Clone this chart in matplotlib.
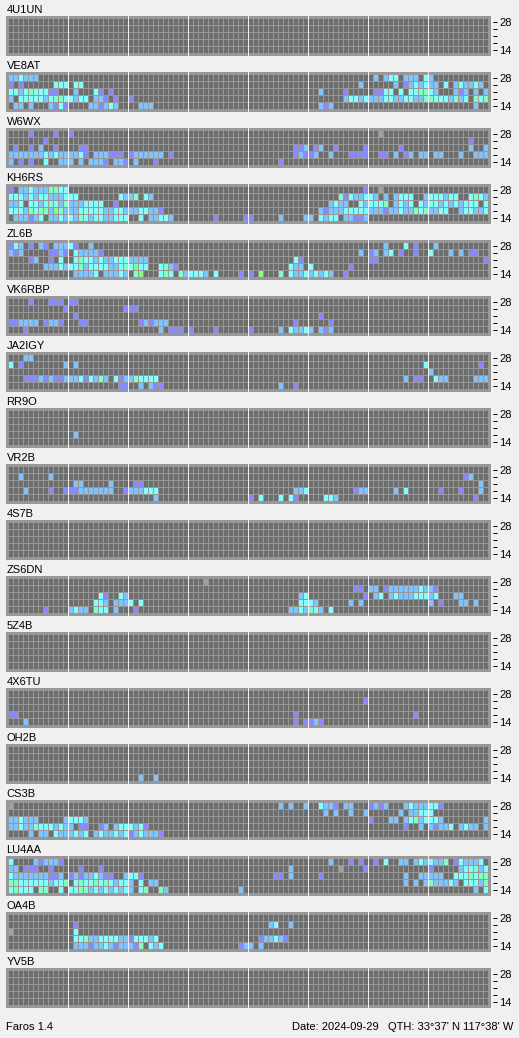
import matplotlib
matplotlib.use('Agg')
import matplotlib.pyplot as plt

W, H = 519, 1038
BG = '#f0f0f0'
PANEL = '#989898'
EMPTY = '#6e6e6e'
LEVELS = {'1': '#8888ff', '2': '#80c4ff', '3': '#80ffff', '4': '#80ffc0', '5': '#80ff80', '9': '#a0a0a0'}
BANDS = ['28', '', '', '', '14']
N_COLS = 96

# Each station: five rows (28 MHz on top), each {first column: levels, '.' = no signal}
U4U1UN = [{}, {}, {}, {}, {}]
VE8AT = [
    {0: '223222', 73: '2.233.222.32'},
    {0: '1.1', 9: '333.33', 70: '2', 77: '2.1232322.3.232232'},
    {0: '3323433311', 13: '2', 17: '31.1', 62: '2', 67: '1', 73: '1133.3.334432...212.2.2'},
    {0: '2.33333234433233', 17: '221.1..1', 67: '2332322233223322443332423.434'},
    {1: '22.2', 8: '2131', 16: '221232', 26: '222', 62: '212', 93: '2'},
]
W6WX = [
    {4: '1', 9: '1', 12: '1', 74: '9'},
    {7: '1', 92: '1'},
    {1: '1', 4: '1', 6: '2', 9: '1', 14: '11', 57: '112.12', 65: '1', 71: '1', 78: '1', 92: '2', 95: '2'},
    {0: '2222222323222231', 17: '222111.1222222', 32: '1', 57: '12112', 64: '2', 68: '1111', 74: '11',
     77: '2', 79: '12', 82: '22', 85: '22', 90: '2', 93: '222'},
    {0: '2.1.1', 7: '3', 10: '222', 14: '2', 16: '2221', 21: '221', 25: '2', 29: '1', 54: '1'},
]
KH6RS = [
    {0: '1', 2: '2232224433', 71: '1', 74: '9'},
    {0: '33323233222333', 22: '3224', 27: '32', 66: '41322332', 75: '2', 77: '2333', 83: '2333233', 92: '3432'},
    {0: '223.332343242223333', 21: '1', 64: '2322', 70: '323334', 77: '2323', 82: '323323232333', 95: '3'},
    {0: '333243442542', 12: '223333322332', 24: '2233221', 62: '21222333332221223224342233', 90: '233223'},
    {1: '222123', 8: '2232324323322333', 26: '3', 28: '22332', 41: '1', 47: '11', 54: '2', 59: '22', 62: '3233',
     67: '22112'},
]
ZL6B = [
    {0: '132.1.21.22231', 16: '2', 75: '2', 79: '3', 81: '1', 85: '2'},
    {0: '212', 8: '1121', 13: '322221', 70: '2', 72: '12', 75: '23', 78: '1', 81: '1', 84: '3', 88: '2', 90: '2',
     92: '11'},
    {4: '12', 8: '1', 10: '3', 13: '343323223332222', 57: '31', 72: '11', 95: '1'},
    {7: '222323342333322343533', 30: '3421', 56: '322', 60: '3', 68: '1'},
    {13: '22223', 19: '22232', 25: '45', 30: '343', 34: '423332', 41: '3', 46: '1', 48: '1', 50: '5', 54: '4',
     56: '322323232', 67: '1'},
]
VK6RBP = [
    {4: '1', 8: '111', 12: '11'},
    {11: '1', 23: '111'},
    {13: '1', 62: '1'},
    {0: '112222', 7: '1221', 14: '11', 26: '121222', 57: '1', 64: '1'},
    {3: '1', 30: '2', 32: '111', 36: '1', 41: '1', 48: '1', 54: '2', 56: '32232', 62: '212'},
]
JA2IGY = [
    {3: '22'},
    {0: '3', 2: '1', 11: '2', 13: '2', 83: '3', 94: '1'},
    {84: '2'},
    {3: '11121211222313242', 21: '312243333', 79: '2', 81: '11', 85: '322', 93: '222'},
    {22: '11', 26: '2', 28: '211', 54: '2', 57: '1'},
]
RR9O = [{}, {}, {}, {13: '2'}, {}]
VR2B = [
    {},
    {2: '2', 8: '2', 91: '12'},
    {13: '22', 20: '2', 25: '11', 94: '2'},
    {3: '2', 8: '1', 11: '111', 14: '2222222', 23: '1', 24: '222333', 57: '223', 69: '122', 77: '2', 79: '3',
     86: '1', 90: '1', 94: '2'},
    {29: '2', 48: '1', 50: '3', 54: '3', 56: '31', 63: '332', 93: '1'},
]
S4S7B = [{}, {}, {}, {}, {}]
ZS6DN = [
    {39: '9'},
    {69: '11', 72: '22', 75: '1', 76: '2222223221'},
    {18: '31', 22: '32', 58: '23', 71: '1', 73: '23', 76: '2322233323', 89: '22'},
    {17: '332', 21: '2223', 26: '3', 58: '3332', 68: '2', 70: '2', 84: '2', 86: '1', 90: '22', 93: '2'},
    {7: '1', 12: '2322', 17: '433', 21: '2', 25: '1', 56: '2232432', 64: '3'},
]
Z5Z4B = [{}, {}, {}, {}, {}]
X4X6TU = [
    {},
    {71: '1'},
    {},
    {0: '11', 57: '1', 81: '1'},
    {3: '2', 57: '1', 59: '1121'},
]
OH2B = [{}, {}, {}, {}, {26: '2', 29: '2'}]
CS3B = [
    {0: '9', 54: '2', 56: '2', 59: '2', 62: '3221', 67: '22', 72: '1212', 79: '23222331'},
    {63: '2', 65: '2', 68: '2', 71: '2', 78: '2', 80: '22333'},
    {0: '223222', 11: '23332', 72: '1', 76: '22', 79: '23423332', 95: '2'},
    {0: '223224', 6: '3332322', 14: '11', 18: '12', 21: '2333231', 79: '1', 82: '2', 84: '21223', 90: '2322',
     95: '2'},
    {4: '2', 6: '22', 9: '3222323', 17: '2322323', 24: '1232221'},
]
LU4AA = [
    {0: '3', 5: '212221', 64: '2', 68: '1', 70: '1', 73: '1', 75: '3', 78: '22', 81: '2323224', 89: '132223'},
    {0: '22', 3: '111', 8: '1', 14: '1', 18: '1', 56: '2', 66: '9', 71: '1', 84: '1', 90: '233423'},
    {0: '32222222', 8: '112', 12: '121223211', 23: '2331', 53: '11', 56: '2', 62: '1', 79: '2', 82: '22222',
     89: '3334344'},
    {0: '443333332334', 13: '343343432332', 26: '3', 28: '22', 79: '2', 81: '2', 83: '2422232', 91: '33324'},
    {0: '34333', 6: '44', 10: '3', 12: '3344232323232', 26: '34', 30: '42', 46: '2', 93: '2', 95: '3'},
]
OA4B = [
    {},
    {13: '1', 52: '23', 56: '2'},
    {0: '9', 13: '3'},
    {13: '33422333322133323', 50: '122321'},
    {13: '22212232122214', 28: '323', 46: '122', 50: '2'},
]
YV5B = [{}, {}, {}, {}, {}]

STATIONS = [('4U1UN', U4U1UN), ('VE8AT', VE8AT), ('W6WX', W6WX), ('KH6RS', KH6RS), ('ZL6B', ZL6B),
            ('VK6RBP', VK6RBP), ('JA2IGY', JA2IGY), ('RR9O', RR9O), ('VR2B', VR2B), ('4S7B', S4S7B),
            ('ZS6DN', ZS6DN), ('5Z4B', Z5Z4B), ('4X6TU', X4X6TU), ('OH2B', OH2B), ('CS3B', CS3B),
            ('LU4AA', LU4AA), ('OA4B', OA4B), ('YV5B', YV5B)]

FOOTER = [('Faros 1.4', 6.5), ('Date: 2024-09-29', 292), ("QTH: 33\u00b037' N", 388), ("117\u00b038' W", 463)]

plt.rcParams['font.family'] = ['Liberation Sans', 'DejaVu Sans']
FS = 8.0
PX = 72 / 100
fig = plt.figure(figsize=(W / 100, H / 100), dpi=100, facecolor=BG)


def expand(row):
    cells = ['.'] * N_COLS
    for start, levels in row.items():
        for k, ch in enumerate(levels):
            cells[start + k] = ch
    return cells


for i, (name, rows) in enumerate(STATIONS):
    top = 16 + 56 * i
    ax = fig.add_axes([6 / W, 1 - (top + 40) / H, 485 / W, 40 / H], facecolor=PANEL)
    ax.set_xlim(-3 / 5, 482 / 5)
    ax.set_ylim(37 / 7, -3 / 7)
    xs, ys, cs = [], [], []
    for r, row in enumerate(rows):
        for c, ch in enumerate(expand(row)):
            xs.append(c)
            ys.append(r)
            cs.append(LEVELS.get(ch, EMPTY))
    ax.bar(xs, [6 / 7] * len(xs), width=0.8, bottom=ys, align='edge', color=cs, linewidth=0, antialiased=False)
    for h in range(1, 8):
        ax.axvline(12 * h - 0.18, color=BG, lw=PX, antialiased=False)
    for s in ax.spines.values():
        s.set_visible(False)
    ax.spines['right'].set_position(('outward', 2 * PX))
    ax.xaxis.set_visible(False)
    ax.yaxis.tick_right()
    ax.set_yticks([r + 3 / 7 for r in range(5)], BANDS)
    ax.tick_params(axis='y', length=4 * PX, width=PX, pad=2.2 * PX, labelsize=FS, colors='black')
    ax.set_title(name, loc='left', fontsize=FS, pad=2.4, color='black', x=0.6 / 485)

for text, x in FOOTER:
    fig.text(x / W, 1 - 1030 / H, text, fontsize=FS, color='black', ha='left', va='baseline')

fig.savefig('out.png', dpi=100, facecolor=BG)
